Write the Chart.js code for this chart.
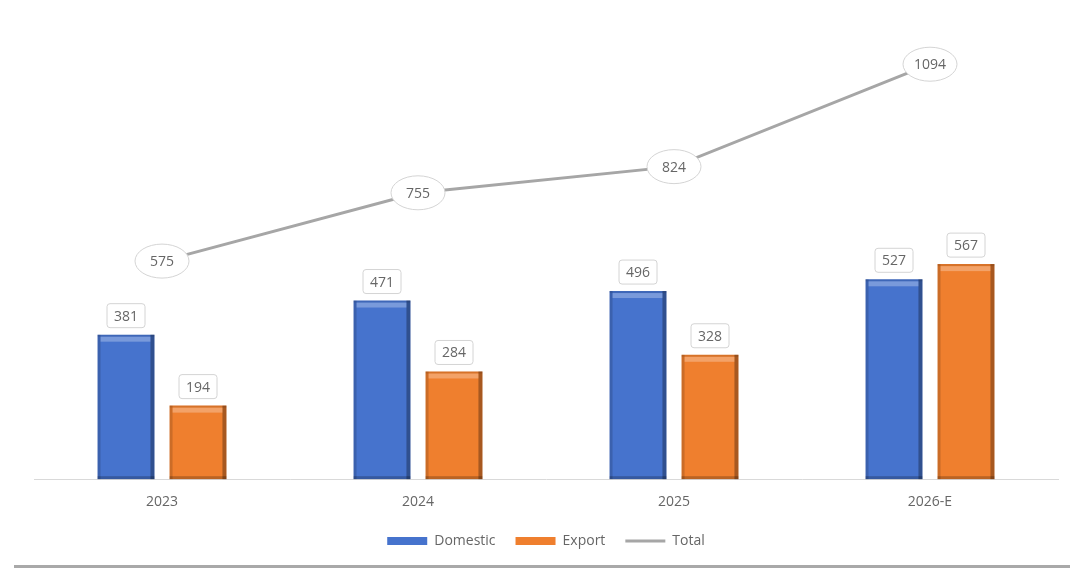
<!DOCTYPE html>
<html>
<head>
<meta charset="utf-8">
<script src="https://cdn.jsdelivr.net/npm/chart.js@4/dist/chart.umd.min.js"></script>
<style>
  html, body { margin: 0; padding: 0; background: #ffffff; }
  #wrap { position: relative; width: 1070px; height: 569px; overflow: hidden; }
  #box { position: absolute; left: 0; top: 0; width: 1070px; height: 562px; }
  #bottomline { position: absolute; left: 14px; top: 565px; width: 1056px; height: 3px; background: #a9a9a9; }
</style>
</head>
<body>
<div id="wrap">
  <div id="box"><canvas id="c"></canvas></div>
  <div id="bottomline"></div>
</div>
<script>
const categories = ['2023', '2024', '2025', '2026-E'];
const domestic = [381, 471, 496, 527];
const exportVals = [194, 284, 328, 567];
const total = [575, 755, 824, 1094];
const seriesNames = ['Domestic', 'Export', 'Total'];

const BLUE = '#4673cd';
const ORANGE = '#ef7f2e';
const GRAY = '#a6a6a6';
const TEXT = '#666666';
const FONT = '"Open Sans", Lato, sans-serif';

const effectsPlugin = {
  id: 'bevel',
  afterDatasetsDraw(chart) {
    const ctx = chart.ctx;
    [0, 1].forEach(di => {
      const meta = chart.getDatasetMeta(di);
      meta.data.forEach(el => {
        const p = el.getProps(['x', 'y', 'base', 'width'], true);
        const l = p.x - p.width / 2, r = p.x + p.width / 2;
        const t = p.y, b = p.base;
        ctx.save();
        ctx.fillStyle = 'rgba(0,0,0,0.15)';
        ctx.fillRect(l, t, 3, b - t);
        ctx.fillStyle = 'rgba(0,0,0,0.30)';
        ctx.fillRect(r - 4, t, 4, b - t);
        ctx.fillStyle = 'rgba(0,0,0,0.22)';
        ctx.fillRect(l, b - 3, r - l, 3);
        ctx.fillStyle = 'rgba(255,255,255,0.28)';
        ctx.fillRect(l + 3, t + 2, r - l - 7, 5);
        ctx.fillStyle = 'rgba(0,0,0,0.10)';
        ctx.fillRect(l, t, r - l, 2);
        ctx.restore();
      });
    });
  }
};

const labelPlugin = {
  id: 'valueLabels',
  afterDatasetsDraw(chart) {
    const ctx = chart.ctx;
    ctx.save();
    ctx.font = '14px ' + FONT;
    ctx.textAlign = 'center';
    ctx.textBaseline = 'middle';
    [0, 1].forEach(di => {
      const meta = chart.getDatasetMeta(di);
      const vals = chart.data.datasets[di].data;
      meta.data.forEach((el, i) => {
        const cx = el.x, cy = el.y - 19;
        const w = 38, h = 24;
        ctx.beginPath();
        ctx.roundRect(cx - w / 2, cy - h / 2, w, h, 3);
        ctx.fillStyle = '#ffffff';
        ctx.fill();
        ctx.lineWidth = 1;
        ctx.strokeStyle = '#d4d4d4';
        ctx.stroke();
        ctx.fillStyle = TEXT;
        ctx.fillText(String(vals[i]), cx, cy + 1);
      });
    });
    const lm = chart.getDatasetMeta(2);
    const lv = chart.data.datasets[2].data;
    lm.data.forEach((el, i) => {
      ctx.beginPath();
      ctx.ellipse(el.x, el.y, 27, 17, 0, 0, Math.PI * 2);
      ctx.fillStyle = '#ffffff';
      ctx.fill();
      ctx.lineWidth = 1;
      ctx.strokeStyle = '#d4d4d4';
      ctx.stroke();
      ctx.fillStyle = TEXT;
      ctx.fillText(String(lv[i]), el.x, el.y + 1);
    });
    ctx.restore();
  }
};

new Chart(document.getElementById('c'), {
  type: 'bar',
  data: {
    labels: categories,
    datasets: [
      { label: seriesNames[0], data: domestic, backgroundColor: BLUE, borderWidth: 0,
        categoryPercentage: 0.5625, barPercentage: 0.79, pointStyle: 'rect', order: 2 },
      { label: seriesNames[1], data: exportVals, backgroundColor: ORANGE, borderWidth: 0,
        categoryPercentage: 0.5625, barPercentage: 0.79, pointStyle: 'rect', order: 2 },
      { type: 'line', label: seriesNames[2], data: total, borderColor: GRAY, backgroundColor: GRAY,
        borderWidth: 3, pointRadius: 0, pointHoverRadius: 0, pointStyle: 'line', tension: 0, order: 1 }
    ]
  },
  options: {
    responsive: true,
    maintainAspectRatio: false,
    animation: false,
    layout: { padding: { top: 24, left: 34, right: 12, bottom: 4 } },
    scales: {
      x: {
        grid: { display: false, drawTicks: false },
        border: { display: true, color: '#d9d9d9', width: 1 },
        ticks: { color: TEXT, font: { family: FONT, size: 14 }, padding: 14 },
        afterFit(scale) { scale.height -= 10; }
      },
      y: { display: false, min: 0, max: 1200 }
    },
    plugins: {
      tooltip: { enabled: false },
      legend: {
        position: 'bottom',
        labels: {
          usePointStyle: true,
          pointStyleWidth: 40,
          boxHeight: 8,
          padding: 20,
          color: TEXT,
          font: { family: FONT, size: 14 },
          generateLabels(chart) {
            const cols = [BLUE, ORANGE, GRAY];
            return chart.data.datasets.map((ds, i) => ({
              text: ds.label,
              fillStyle: cols[i],
              strokeStyle: cols[i],
              lineWidth: i === 2 ? 3 : 0,
              pointStyle: i === 2 ? 'line' : 'rect',
              fontColor: TEXT,
              hidden: false,
              datasetIndex: i
            }));
          }
        }
      }
    }
  },
  plugins: [effectsPlugin, labelPlugin]
});
</script>
</body>
</html>
